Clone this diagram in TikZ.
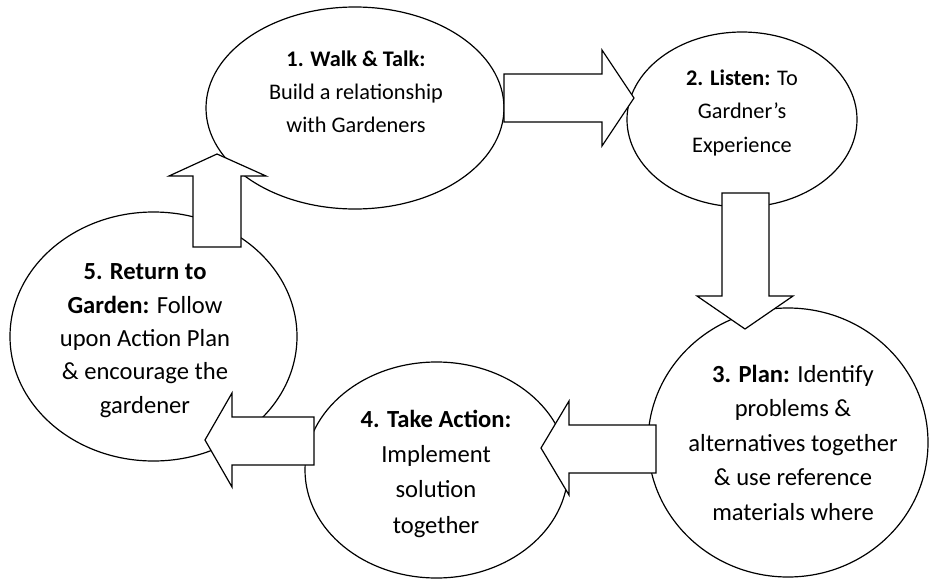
\documentclass[tikz,border=0pt]{standalone}
\usepackage{fontspec}
\setmainfont{Carlito}
\usetikzlibrary{shapes.geometric}
\begin{document}
\begin{tikzpicture}[x=1pt,y=-1pt,
  stage/.style={ellipse,draw=black,fill=white,line width=1.2pt,inner sep=0pt},
  blockarrow/.style={draw=black,fill=white,line width=1.2pt,line join=miter},
  stagetext/.style={align=center,anchor=base,inner sep=0pt,text=black}]
\fill[white] (0,0) rectangle (930,579);
\useasboundingbox (0,0) rectangle (930,579);
% stages
\node[stage,minimum width=298pt,minimum height=202pt] (e1) at (355,108) {};
\node[stage,minimum width=230pt,minimum height=175pt] (e2) at (742,119.5) {};
\node[stage,minimum width=280pt,minimum height=269pt] (e3) at (788,442.5) {};
\node[stage,minimum width=263pt,minimum height=216pt] (e4) at (436.5,470) {};
\node[stage,minimum width=287pt,minimum height=249pt] (e5) at (153.5,336.5) {};
% block arrows
\draw[blockarrow] (504,74) -- (602,74) -- (602,50) -- (634,98) -- (602,146) -- (602,122) -- (504,122) -- cycle;
\draw[blockarrow] (722,193) -- (769,193) -- (769,296) -- (793,296) -- (745,329) -- (697,296) -- (722,296) -- cycle;
\draw[blockarrow] (656,425) -- (569,425) -- (569,401) -- (541,448) -- (569,495) -- (569,473) -- (656,473) -- cycle;
\draw[blockarrow] (314,417) -- (232,417) -- (232,393) -- (205,440) -- (232,487) -- (232,465) -- (314,465) -- cycle;
\draw[blockarrow] (193,247) -- (193,176) -- (169,176) -- (217,154) -- (266,176) -- (241,176) -- (241,247) -- cycle;
% texts (anchored at the baseline of the last line)
\node[stagetext,font=\fontsize{22.3}{33}\selectfont] (t1) at (356,132) {\textbf{1. Walk \& Talk:}\\Build a relationship\\with Gardeners};
\node[stagetext,font=\fontsize{22.3}{33.5}\selectfont] (t2) at (742,152) {\textbf{2. Listen:} To\\Gardner’s\\Experience};
\node[stagetext,font=\fontsize{24.6}{34.6}\selectfont] (t3) at (793,520.4) {\textbf{3. Plan:} Identify\\problems \&\\alternatives together\\\& use reference\\materials where};
\node[stagetext,font=\fontsize{24.6}{35.3}\selectfont] (t4) at (436,533) {\textbf{4. Take Action:}\\Implement\\solution\\together};
\node[stagetext,font=\fontsize{24.6}{33.3}\selectfont] (t5) at (145,413) {\textbf{5. Return to}\\\textbf{Garden:} Follow\\upon Action Plan\\\& encourage the\\gardener};
\end{tikzpicture}
\end{document}
